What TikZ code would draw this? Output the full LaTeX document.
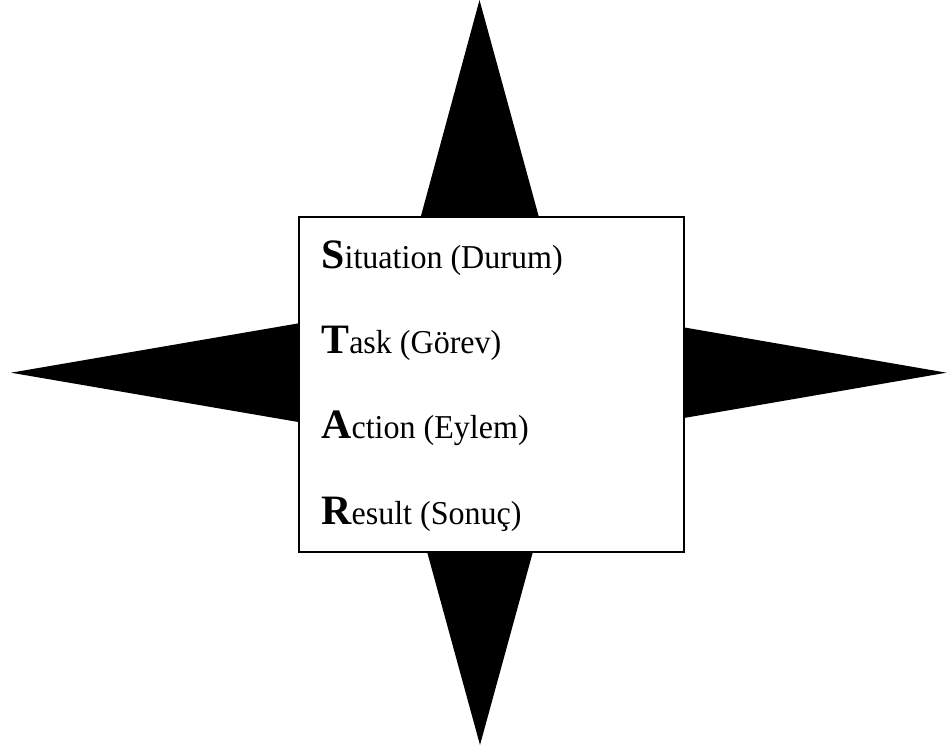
\documentclass[tikz,border=0pt]{standalone}
\usepackage{fontspec}
\setmainfont{Liberation Serif}
\newfontfamily\starfont{Liberation Serif}[FakeStretch=0.96]
\usepackage{tikz}
\usetikzlibrary{positioning,calc}

\tikzset{
    spike/.style={fill=black, draw=none},
    starbox/.style={draw=black, fill=white, line width=0.8pt},
    starline/.style={anchor=base west, inner sep=0pt, font=\starfont\fontsize{19}{21}\selectfont}
}
\newcommand{\initial}[1]{{\normalfont\fontsize{23.8}{26}\selectfont\bfseries #1}}

\begin{document}
\begin{tikzpicture}
    \useasboundingbox (0,0) rectangle (18.94,15);

    % Centre of the star
    \coordinate (c) at (9.6,7.546);

    % Spikes
    \fill[spike] (9.59,15) -- ($(c)+(-2.03,0)$) -- ($(c)+(2.03,0)$) -- cycle;
    \fill[spike] (9.6,0.1) -- ($(c)+(-2.04,0)$) -- ($(c)+(2.04,0)$) -- cycle;
    \fill[spike] (0.22,7.546) -- ($(c)+(0,1.61)$) -- ($(c)+(0,-1.61)$) -- cycle;
    \fill[spike] (18.93,7.546) -- ($(c)+(0,1.61)$) -- ($(c)+(0,-1.61)$) -- cycle;

    % Box
    \draw[starbox] (5.98,3.96) rectangle (13.68,10.66);

    % STAR lines
    \node[starline] (situation) at (6.42,9.634) {\initial{S}ituation (Durum)};
    \node[starline] (task) at (6.42,7.934) {\initial{T}ask (Görev)};
    \node[starline] (action) at (6.42,6.234) {\initial{A}ction (Eylem)};
    \node[starline] (result) at (6.42,4.52) {\initial{R}esult (Sonuç)};
\end{tikzpicture}
\end{document}
